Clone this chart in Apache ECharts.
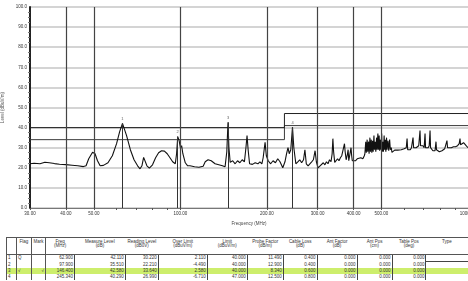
<!DOCTYPE html>
<html>
<head>
<meta charset="utf-8" />
<title>emi scan</title>
<script src="https://cdn.jsdelivr.net/npm/echarts@6/dist/echarts.min.js"></script>
<style>
	body{margin:0;background:#fff;}
	#scan{position:absolute;left:0;top:0;width:468px;height:236px;}
	#tbl{position:absolute;left:6px;top:237px;border-collapse:collapse;table-layout:fixed;
		font-family:"Liberation Sans",Arial,sans-serif;font-size:4.5px;color:#333;}
	#tbl th{font-weight:normal;vertical-align:top;padding:2px 0 0 0;line-height:4px;height:14px;
		border-top:1px solid #555;border-bottom:1px solid #555;text-align:center;}
	#tbl td{height:6px;line-height:6px;padding:0 1px 0 0;text-align:right;white-space:nowrap;}
	#tbl td.v{border-right:1px solid #444;}
	#tbl .b{border-right:1px solid #555;text-align:left;padding-left:1px;}
	#tbl tr.hl td{background:#cdee6c;}
</style>
</head>
<body>
<div id="scan"></div>
<table id="tbl"></table>
<script type="text/javascript">
	// scan trace (MHz / dBuV/m)
	var freqs = [30, 31, 32.5, 33.8, 35, 36.5, 38, 40, 42, 44, 46, 47, 48, 49.5, 50.5, 51.5, 52.6, 54, 56, 58,
		60, 61.5, 62.9, 63.8, 65, 67, 69, 71, 72.4, 73.5, 74.5, 75.5, 76.5, 78, 80, 82, 84, 86, 88, 90,
		92, 94, 96, 97, 97.9, 99, 100, 101, 102, 104, 106, 108, 112, 116, 120, 122, 124.8, 128, 132, 136,
		140, 143, 145, 146.4, 147.5, 149, 152, 155, 158, 161, 164, 167, 169, 170.5, 172, 174, 178, 182, 186, 189,
		192, 194, 197, 199, 202, 206, 210, 214, 218, 222, 227, 231, 234, 236.7, 239, 242, 245.34, 248, 252, 256,
		260, 264, 268, 271, 274, 278, 282, 286, 290, 294, 297, 301, 306, 310, 314, 318, 322, 326, 330, 334,
		337, 339, 341, 344, 348, 352, 356, 360, 364, 368, 372, 374, 377, 380, 383, 385, 388, 392, 394, 396,
		400, 406, 412, 418, 424, 431, 436, 438, 441, 443, 446, 448, 451, 453, 456, 458, 461, 463, 466, 468,
		471, 473, 476, 478, 481, 483, 486, 488, 491, 493, 496, 498, 501, 503, 506, 508, 511, 513, 516, 518,
		521, 523, 527, 530, 534, 537, 541, 544, 550, 556, 562, 570, 578, 586, 594, 600, 606, 610, 614, 617,
		624, 630, 636, 641, 644, 647, 654, 660, 668, 674, 681, 684, 690, 697, 704, 709, 712, 720, 727, 733,
		738, 741, 748, 755, 762, 768, 774, 777, 785, 795, 805, 812, 820, 830, 840, 845, 849, 860, 875, 890,
		905, 920, 932, 938, 942, 955, 965, 976, 985, 1000];
	var levels = [22.0, 22.3, 22.0, 22.8, 22.5, 22.1, 21.8, 21.6, 21.3, 21.0, 20.6, 21.0, 24.5, 27.7, 27.0, 23.5, 21.0, 21.2, 22.5, 26,
		32, 38, 42.1, 41.5, 36, 29, 24, 21, 19.5, 21, 25.2, 25, 21, 19.8, 21.5, 25, 27.5, 28.5, 28.3, 27,
		25, 23, 22, 27, 35.5, 33.5, 30, 31, 27, 22.5, 21, 21, 20.5, 20.3, 20.8, 23, 24, 23.5, 22, 21.5,
		21, 20.5, 28, 42.6, 30, 22.7, 23.5, 22, 23.5, 22.5, 24, 23, 30, 36, 29, 22, 21.7, 22.5, 22, 23,
		22, 25, 32.7, 26, 23.5, 22, 23.5, 22.5, 24.5, 23, 20, 23, 27, 30, 27, 29, 40.3, 30, 22, 23,
		24, 22.5, 24, 29, 22, 21, 21.5, 23, 24, 28.5, 23, 20, 21, 21.5, 22.5, 21.5, 23, 22, 24, 23,
		27, 34.5, 28, 22.7, 23.5, 24.5, 23.5, 25, 26, 29, 32, 28, 24, 26, 29, 23.5, 24, 30, 26, 23.5,
		24, 23.5, 24.5, 24.2, 25, 24.5, 26, 27, 33, 27.5, 34, 28, 33, 27, 35, 28, 34, 27.5, 33.5, 28,
		36, 29, 33, 28, 35, 29, 37, 29, 36, 28.5, 34, 29, 37, 28, 33, 28, 36, 29, 34, 28,
		35, 29, 33.5, 28.5, 34, 29, 30, 27.7, 28.3, 28.8, 28.3, 28.8, 28.5, 29, 28.5, 29.5, 29, 30, 34.5, 29,
		29.5, 29, 30, 29.5, 35, 30, 29.5, 30, 30.5, 31, 38.5, 31, 30.5, 31, 30, 37, 30, 29.5, 30, 31,
		38.5, 30, 29.5, 28.5, 29, 28.5, 33, 29, 28.5, 28, 28.5, 28.5, 29, 29.5, 30, 33.5, 30, 30.5, 30, 30.5,
		30.5, 31, 32, 34.5, 31.5, 31.5, 32.5, 33, 31, 30];

	// limit and margin lines
	var limitFreq = [30, 230, 230, 1000];
	var limitLevel = [40, 40, 47, 47];
	var marginLevel = [34, 34, 41, 41];

	// axis labels and grid
	var xLabels = [30, 40, 50, 100, 200, 300, 400, 500, 1000];
	var xTicks = [30, 40, 50, 60, 70, 80, 90, 100, 200, 300, 400, 500, 600, 700, 800, 900, 1000];
	var xGrid = [40, 50, 100, 200, 300, 400, 500];

	// marker table
	var rowNo = ['1', '2', '3', '4'];
	var rowFlag = ['Q', '', '√', ''];
	var rowMark = ['', '', '√', ''];
	var freqCol = [62.900, 97.900, 146.400, 245.340];
	var measCol = [42.110, 35.510, 42.580, 40.290];
	var readCol = [30.220, 22.210, 33.640, 26.990];
	var overCol = [2.110, -4.490, 2.580, -6.710];
	var limitCol = [40.000, 40.000, 40.000, 47.000];
	var probeCol = [11.490, 12.900, 8.340, 12.500];
	var cableCol = [0.400, 0.400, 0.600, 0.800];
	var antFCol = [0.000, 0.000, 0.000, 0.000];
	var antPCol = [0.000, 0.000, 0.000, 0.000];
	var tablePCol = [0.000, 0.000, 0.000, 0.000];
	var hlRow = 2;

	var trace = [];
	for (var i = 0; i < freqs.length; i++) trace.push([freqs[i], levels[i]]);
	var limit = [], margin = [];
	for (var i = 0; i < limitFreq.length; i++) {
		limit.push([limitFreq[i], limitLevel[i]]);
		margin.push([limitFreq[i], marginLevel[i]]);
	}
	var marks = [], markDrops = [];
	for (var i = 0; i < freqCol.length; i++) {
		marks.push([freqCol[i], measCol[i]]);
		markDrops.push([{coord: [freqCol[i], measCol[i]]}, {coord: [freqCol[i], 0]}]);
	}

	var myChart = echarts.init(document.getElementById('scan'));
	var option = {
		animation: false,
		textStyle: {fontFamily: 'Liberation Sans'},
		grid: {left: 30, right: 0, top: 7, bottom: 28, containLabel: false, outerBoundsMode: 'none'},
		xAxis: {
			type: 'log',
			logBase: 10,
			min: 30,
			max: 1000,
			name: 'Frequency (MHz)',
			nameLocation: 'middle',
			nameGap: 9,
			nameTextStyle: {fontSize: 4.5, color: '#444'},
			axisLine: {lineStyle: {color: '#777', width: 1}},
			axisTick: {show: true, customValues: xTicks, length: 2, lineStyle: {color: '#555'}},
			axisLabel: {
				customValues: xLabels, fontSize: 4.5, color: '#333', margin: 3,
				formatter: function (v) { return Number(v).toFixed(2); }
			},
			splitLine: {show: false}
		},
		yAxis: {
			type: 'value',
			min: 0,
			max: 100,
			interval: 10,
			name: 'Level (dBuV/m)',
			nameLocation: 'middle',
			nameGap: 21,
			nameTextStyle: {fontSize: 4.5, color: '#555'},
			axisLine: {show: true, lineStyle: {color: '#222', width: 2}},
			axisTick: {show: false},
			minorTick: {show: true, splitNumber: 4, length: 2, lineStyle: {color: '#777'}},
			axisLabel: {
				fontSize: 4.5, color: '#333', margin: 3,
				formatter: function (v) { return v.toFixed(1); }
			},
			splitLine: {lineStyle: {color: '#c6c6c6', width: 1.6}}
		},
		series: [
			{
				// vertical grid
				type: 'line',
				data: [],
				silent: true,
				z: 1,
				markLine: {
					silent: true,
					symbol: 'none',
					label: {show: false},
					lineStyle: {color: '#444', width: 1.2, type: 'solid'},
					data: xGrid.map(function (v) { return {xAxis: v}; })
				}
			},
			{
				name: 'margin',
				type: 'line',
				data: margin,
				symbol: 'none',
				z: 2,
				lineStyle: {color: '#3a3a3a', width: 1}
			},
			{
				name: 'limit',
				type: 'line',
				data: limit,
				symbol: 'none',
				z: 2,
				lineStyle: {color: '#222', width: 1}
			},
			{
				name: 'trace',
				type: 'line',
				data: trace,
				symbol: 'none',
				z: 3,
				lineStyle: {color: '#111', width: 1.1}
			},
			{
				name: 'markers',
				type: 'scatter',
				data: marks,
				symbol: 'circle',
				symbolSize: 1,
				itemStyle: {color: 'rgba(0,0,0,0)'},
				z: 4,
				label: {
					show: true, position: 'top', distance: 2, fontSize: 4, color: '#333',
					formatter: function (p) { return String(p.dataIndex + 1); }
				},
				markLine: {
					silent: true,
					symbol: 'none',
					label: {show: false},
					lineStyle: {color: '#333', width: 1, type: 'solid'},
					data: markDrops
				}
			}
		]
	};
	myChart.setOption(option);

	// marker table
	var heads = [['', ''], ['Flag', ''], ['Mark', ''], ['Freq', '(MHz)'], ['Measure Level', '(dB)'],
		['Reading Level', '(dBuV)'], ['Over Limit', '(dBuV/m)'], ['Limit', '(dBuV/m)'],
		['Probe Factor', '(dB/m)'], ['Cable Loss', '(dB)'], ['Ant Factor', '(dB)'],
		['Ant Pos', '(cm)'], ['Table Pos', '(deg)'], ['Type', '']];
	var widths = [10, 15, 14, 29, 51, 33, 49, 40, 36, 34, 40, 35, 34, 42];
	var cols = [freqCol, measCol, readCol, overCol, limitCol, probeCol, cableCol, antFCol, antPCol, tablePCol];

	var html = '<colgroup>';
	for (var i = 0; i < widths.length; i++) html += '<col style="width:' + widths[i] + 'px">';
	html += '</colgroup><tr>';
	for (var i = 0; i < heads.length; i++) {
		var cls = i < 3 ? ' style="border-right:1px solid #555;' + (i == 0 ? 'border-left:1px solid #555;' : '') + '"' : '';
		html += '<th' + cls + '>' + heads[i][0] + '<br>' + heads[i][1] + '</th>';
	}
	html += '</tr>';
	for (var r = 0; r < rowNo.length; r++) {
		html += '<tr' + (r == hlRow ? ' class="hl"' : '') + '>';
		html += '<td class="b" style="border-left:1px solid #555;">' + rowNo[r] + '</td>';
		html += '<td class="b">' + rowFlag[r] + '</td>';
		html += '<td class="b" style="text-align:right;">' + rowMark[r] + '</td>';
		for (var c = 0; c < cols.length; c++) {
			html += '<td class="v">' + cols[c][r].toFixed(3) + '</td>';
		}
		html += '<td style="' + (r == 0 ? 'border-bottom:1px solid #444;' : '') + '"></td>';
		html += '</tr>';
	}
	document.getElementById('tbl').innerHTML = html;
</script>
</body>
</html>
